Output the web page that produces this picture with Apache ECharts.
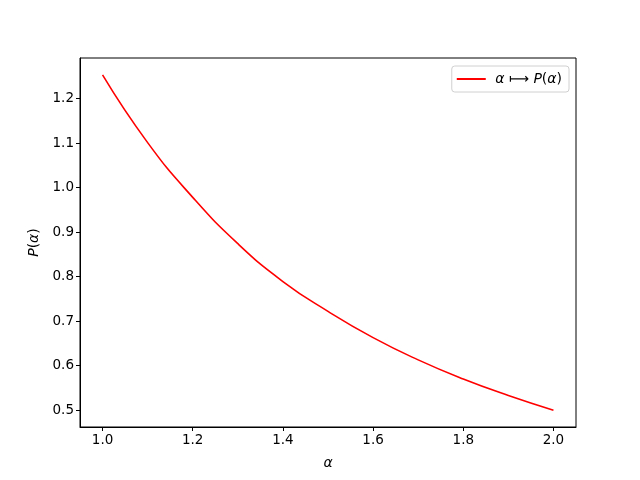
<!DOCTYPE html>
<html>
<head>
<meta charset="utf-8">
<script src="https://cdn.jsdelivr.net/npm/echarts@6/dist/echarts.min.js"></script>
<style>html,body{margin:0;padding:0;background:#fff}#c{width:640px;height:480px}</style>
</head>
<body>
<div id="c"></div>
<script>
const alphaValues = [1.0, 1.1, 1.2, 1.3, 1.4, 1.5, 1.6, 1.7, 1.8, 1.9, 2.0];
const pValues = [1.253, 1.101, 0.978, 0.874, 0.789, 0.722, 0.663, 0.613, 0.570, 0.533, 0.500];
const xTicks = [1.0, 1.2, 1.4, 1.6, 1.8, 2.0];
const yTicks = [0.5, 0.6, 0.7, 0.8, 0.9, 1.0, 1.1, 1.2];
const seriesName = 'alpha-map';

const chart = echarts.init(document.getElementById('c'), null, {renderer: 'canvas'});
const font = 'DejaVu Sans';
const data = alphaValues.map((a, i) => [a, pValues[i]]);
const richStyles = {
  i: {fontFamily: font, fontStyle: 'italic', fontSize: 14, color: '#000'},
  n: {fontFamily: font, fontSize: 14, color: '#000'}
};
chart.setOption({
  animation: false,
  backgroundColor: '#fff',
  textStyle: {fontFamily: font},
  grid: {left: 80, right: 64, top: 58, bottom: 53, show: true, borderColor: '#000', borderWidth: 1, containLabel: false},
  legend: {
    right: 71, top: 66,
    data: [{name: seriesName, icon: 'rect'}],
    itemWidth: 29, itemHeight: 2,
    itemGap: 10,
    padding: [6, 7, 6, 5],
    borderColor: '#d0d0d0', borderWidth: 1, borderRadius: 3,
    backgroundColor: '#fff',
    formatter: () => '{n| }{i|α}{n| ⟼ }{i|P}{n|(}{i|α}{n|)}',
    textStyle: {fontFamily: font, fontSize: 14, color: '#000', rich: richStyles}
  },
  xAxis: {
    type: 'value', min: 0.95, max: 2.05,
    name: '{i|α}', nameLocation: 'middle', nameGap: 29,
    nameTextStyle: {fontFamily: font, fontSize: 14, color: '#000', rich: richStyles},
    axisLine: {show: true, lineStyle: {color: '#000', width: 1}},
    axisTick: {show: true, customValues: xTicks, length: 4, inside: false, lineStyle: {color: '#000'}},
    axisLabel: {customValues: xTicks, formatter: v => v.toFixed(1), color: '#000', fontSize: 13.5, fontFamily: font, margin: 6},
    splitLine: {show: false}
  },
  yAxis: {
    type: 'value', min: 0.4623, max: 1.291,
    name: '{i|P}{n|(}{i|α}{n|)}', nameLocation: 'middle', nameGap: 39, nameRotate: 90,
    nameTextStyle: {fontFamily: font, fontSize: 14, color: '#000', rich: richStyles},
    axisLine: {show: true, lineStyle: {color: '#000', width: 1}},
    axisTick: {show: true, customValues: yTicks, length: 4, inside: false, lineStyle: {color: '#000'}},
    axisLabel: {customValues: yTicks, formatter: v => v.toFixed(1), color: '#000', fontSize: 13.5, fontFamily: font, margin: 6},
    splitLine: {show: false}
  },
  series: [{
    name: seriesName, type: 'line', data: data,
    smooth: true, showSymbol: false, symbol: 'none',
    lineStyle: {color: '#ff0000', width: 1.6},
    itemStyle: {color: '#ff0000'}
  }]
});
</script>
</body>
</html>
